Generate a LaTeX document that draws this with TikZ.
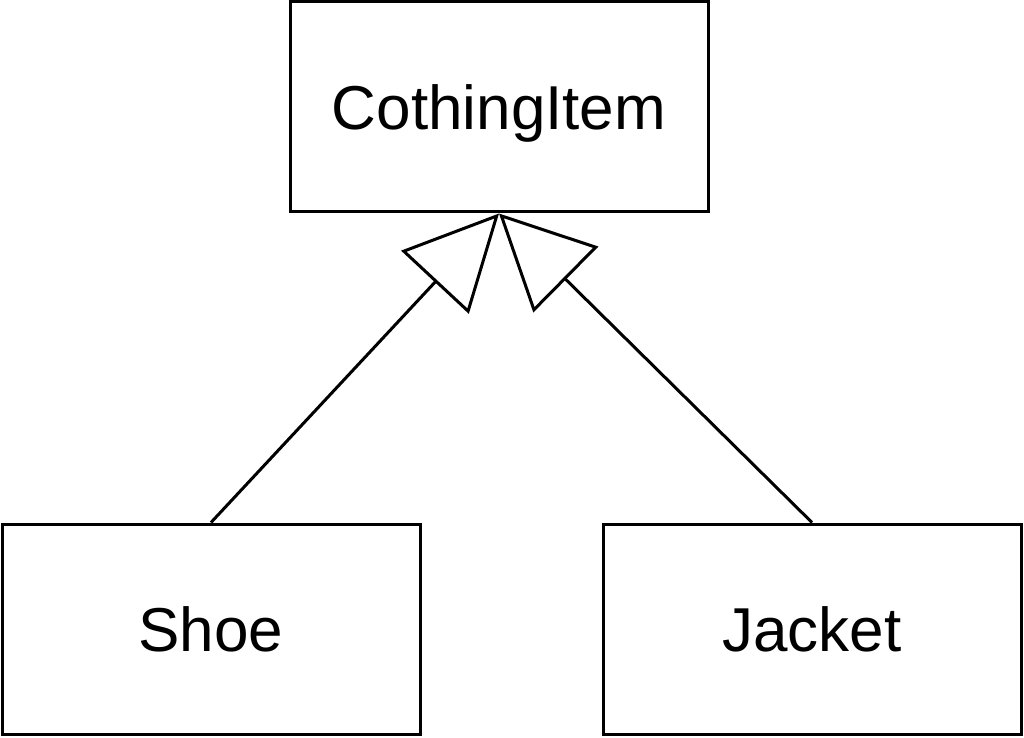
\documentclass[tikz,border=0pt]{standalone}
\usepackage{fontspec}
\setmainfont{Liberation Sans}
\usetikzlibrary{arrows.meta}

\begin{document}
\begin{tikzpicture}[x=0.5pt, y=-0.5pt, every node/.style={draw, line width=1.5pt, minimum width=209pt, minimum height=105pt, text depth=0pt, font=\fontsize{31}{37}\selectfont},%
        every path/.style={line width=1.5pt}, inherit/.style={-{Triangle[open, length=47pt, width=46pt]}}]
        \useasboundingbox (0,0) rectangle (1024,738);
        \node (item) at (499,107) {CothingItem};
        \node (shoe) at (211,629) {Shoe};
        \node (jacket) at (812,629) {Jacket};
        \draw[inherit] (shoe.north) -- (item.south);
        \draw[inherit] (jacket.north) -- (item.south);
    \end{tikzpicture}
\end{document}
